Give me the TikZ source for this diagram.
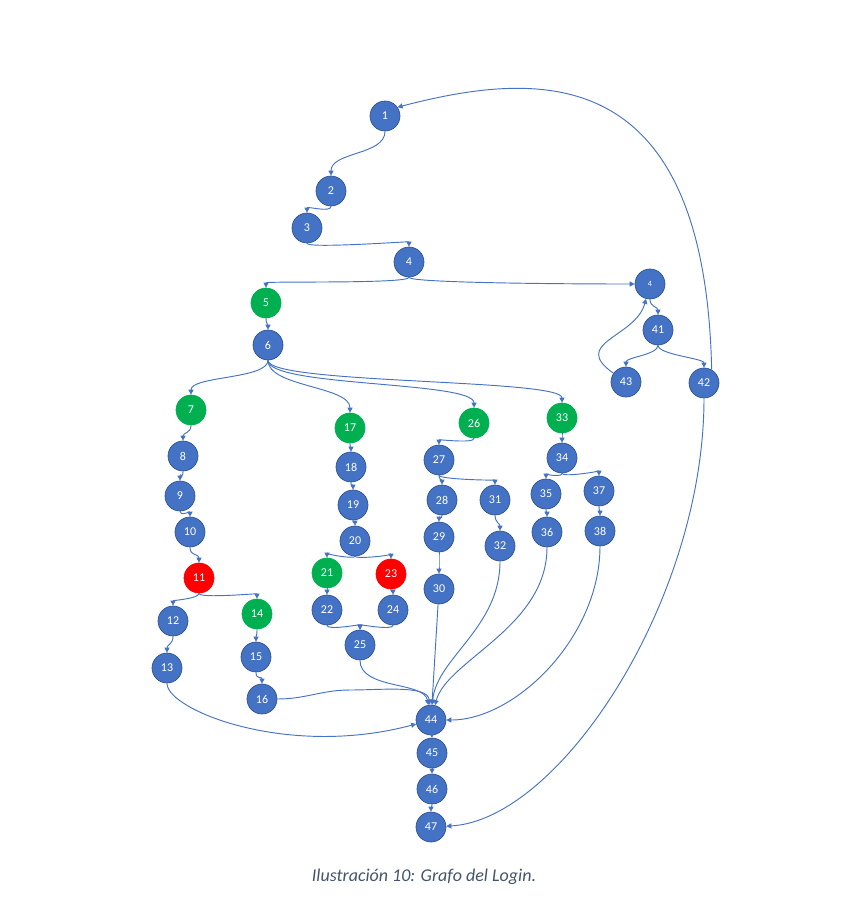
\documentclass[tikz,border=0pt]{standalone}
\usepackage{fontspec}
\setmainfont{Carlito}
\usetikzlibrary{arrows.meta}
\definecolor{nodeblue}{HTML}{4472C4}
\definecolor{nodeedge}{HTML}{2F528F}
\definecolor{nodegreen}{HTML}{00B050}
\definecolor{linkblue}{HTML}{4472C4}
\definecolor{capgray}{HTML}{44546A}
\tikzset{
  bnode/.style={circle,draw=nodeedge,fill=nodeblue,text=white,minimum size=22.5pt,
    inner sep=0pt,line width=0.5pt,font=\fontsize{9}{10}\selectfont},
  gnode/.style={bnode,fill=nodegreen,draw=nodegreen},
  rnode/.style={bnode,fill=red,draw=red},
  lk/.style={draw=linkblue,line width=0.7pt,-{Triangle[length=3.8pt,width=3.8pt]}}
}
\begin{document}
\begin{tikzpicture}[x=0.75pt,y=0.75pt]
   \useasboundingbox (0,0) rectangle (848,-897);
   \foreach \n/\x/\y in {1/385/116,2/331/191,3/307/228,4/409/262,6/268/345,41/658/330,
     43/626/382,42/704/383,8/183/456,18/351/467,27/439/460,34/562/458,9/180/496,
     19/353/505,28/442/500,31/495/500,35/546/494,37/599/491,10/190/532,20/355/541,
     29/439/537,32/500/546,36/547/532,38/600/531,30/439/589,12/173/621,22/327/610,
     24/393/610,25/360/645,13/167/668,15/256/657,16/262/699,44/431/720,45/432/753,
     46/432/789,47/431/827} {
    \node[bnode] (n\n) at (\x,-\y) {\n};
   }
   \foreach \n/\x/\y in {5/266/303,7/191/410,17/350/428,26/474/423,33/562/418,
     21/327/573,14/257/614} {
    \node[gnode] (n\n) at (\x,-\y) {\n};
   }
   \foreach \n/\x/\y in {11/199/578,23/391/574} {
    \node[rnode] (n\n) at (\x,-\y) {\n};
   }
   \node[bnode,font=\fontsize{6}{7}\selectfont] (n4b) at (650,-284) {4};
   \foreach \a/\b/\d in {1/2/18,2/3/5,3/4/4,4/5/5,5/6/4,4b/41/6,41/43/7,41/42/7,
     6/7/14,6/17/20,6/26/20,6/33/18,7/8/6,8/9/6,9/10/4,10/11/7,11/12/4,11/14/4,
     12/13/6,14/15/6,15/16/6,17/18/4,18/19/4,19/20/4,20/21/2,20/23/2,21/22/4,
     23/24/4,22/25/4,24/25/4,26/27/4,27/28/3,27/31/3,28/29/3,29/30/10,31/32/5,
     33/34/4,34/35/3,34/37/3,35/36/4,37/38/4,44/45/1,45/46/1,46/47/1} {
    \draw[lk] (n\a) to[out=-90,in=90,distance=\d pt] (n\b);
   }
   \draw[lk] (n4) to[out=-90,in=180,out distance=4pt,in distance=60pt] (n4b);
   \draw[lk] (n43) to[out=145,in=-105,out distance=40pt,in distance=30pt] (n4b);
   \draw[lk] (n42.60) .. controls (705,-60) and (540,-70) .. (n1.35);
   \draw[lk] (n42) .. controls (704,-600) and (560,-820) .. (n47);
   \draw[lk] (n13) to[out=-90,in=195,out distance=20pt,in distance=100pt] (n44);
   \draw[lk] (n16) to[out=0,in=180] (350,-690) to[out=0,in=95,in distance=15pt] (n44);
   \draw[lk] (n25) to[out=-90,in=100,out distance=22pt,in distance=18pt] (n44);
   \draw[lk] (n30) -- (n44);
   \draw[lk] (n32) to[out=-90,in=85,out distance=50pt,in distance=35pt] (n44);
   \draw[lk] (n36) to[out=-90,in=75,out distance=60pt,in distance=35pt] (n44);
   \draw[lk] (n38) to[out=-90,in=0,out distance=68pt,in distance=52pt] (n44);
   \node[font=\fontsize{13.5}{15}\selectfont\itshape,text=capgray] (caption) at (424,-877)
     {Ilustración 10: Grafo del Login.};
\end{tikzpicture}
\end{document}
